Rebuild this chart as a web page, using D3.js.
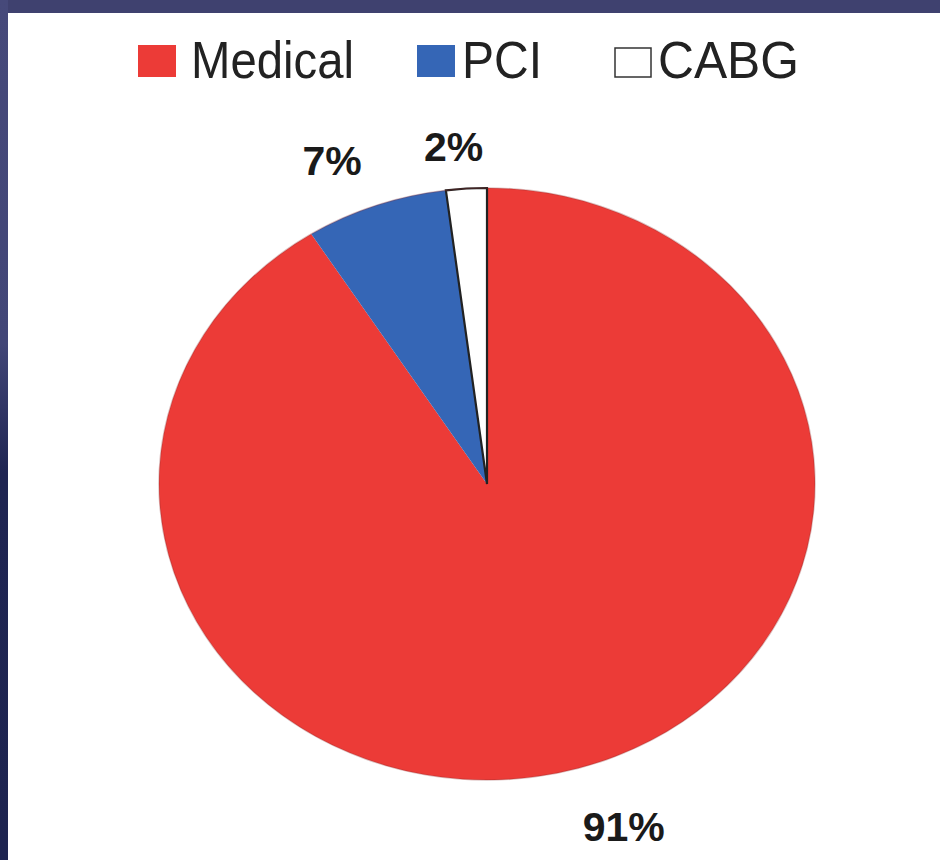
<!DOCTYPE html>
<html>
<head>
<meta charset="utf-8">
<script src="https://cdn.jsdelivr.net/npm/d3@7/dist/d3.min.js"></script>
<style>
  html, body { margin: 0; padding: 0; background: #ffffff; }
  svg { display: block; }
</style>
</head>
<body>
<svg id="chart" width="940" height="860"></svg>
<script>
// Treatment strategy shares
const categories = ["Medical", "PCI", "CABG"];
const shares = [91, 7, 2];
const labels = ["91%", "7%", "2%"];
const colors = ["#ec3b37", "#3566b6", "#ffffff"];

const W = 940, H = 860;
const svg = d3.select("#chart");

// slide frame: slate band along the top, navy band down the left
const defs = svg.append("defs");
const leftGrad = defs.append("linearGradient")
  .attr("id", "leftBand").attr("x1", 0).attr("y1", 0).attr("x2", 0).attr("y2", 1);
leftGrad.append("stop").attr("offset", "0").attr("stop-color", "#46497a");
leftGrad.append("stop").attr("offset", "0.4").attr("stop-color", "#424677");
leftGrad.append("stop").attr("offset", "0.55").attr("stop-color", "#1f2552");
leftGrad.append("stop").attr("offset", "1").attr("stop-color", "#1e2450");

svg.append("rect").attr("x", 0).attr("y", 0).attr("width", W).attr("height", 13)
  .attr("fill", "#3f416f");
svg.append("rect").attr("x", 0).attr("y", 0).attr("width", 8).attr("height", H)
  .attr("fill", "url(#leftBand)");

// pie geometry (slightly wider than tall)
const cx = 487, cy = 484, rx = 328, ry = 296;

const pie = d3.pie().value(d => d.v).sort(null);
const data = categories.map((c, i) => ({ c, v: shares[i], color: colors[i], label: labels[i] }));
const arcs = pie(data);

const arc = d3.arc().innerRadius(0).outerRadius(ry);

const pieG = svg.append("g")
  .attr("transform", `translate(${cx},${cy}) scale(${rx / ry},1)`);

pieG.selectAll("path.slice")
  .data(arcs)
  .join("path")
  .attr("class", "slice")
  .attr("d", arc)
  .attr("fill", d => d.data.color)
  .attr("stroke", d => d.data.c === "CABG" ? "#222222" : "none")
  .attr("stroke-width", 2.2)
  .attr("vector-effect", "non-scaling-stroke");

// soft darker rim around the pie
pieG.append("ellipse")
  .attr("cx", 0).attr("cy", 0).attr("rx", ry).attr("ry", ry)
  .attr("fill", "none").attr("stroke", "#8a2a2a").attr("stroke-opacity", 0.3)
  .attr("stroke-width", 1.5).attr("vector-effect", "non-scaling-stroke");

// percentage labels, set just outside each slice
const labelLayout = {
  "Medical": { k: 1.2, dx: 27, dy: 2 },
  "PCI": { k: 1.16, dx: -26, dy: 0 },
  "CABG": { k: 1.14, dx: -10, dy: 0 }
};
arcs.forEach(a => {
  const L = labelLayout[a.data.c];
  const ang = (a.startAngle + a.endAngle) / 2;
  const x = cx + Math.sin(ang) * rx * L.k + L.dx;
  const y = cy - Math.cos(ang) * ry * L.k + L.dy;
  svg.append("text")
    .attr("x", x).attr("y", y)
    .attr("text-anchor", "middle")
    .attr("dominant-baseline", "central")
    .attr("font-family", "Liberation Sans, Arial, sans-serif")
    .attr("font-weight", "bold")
    .attr("font-size", 41)
    .attr("fill", "#1a1a1a")
    .text(a.data.label);
});

// legend across the top
const legendItems = [
  { sx: 138, tx: 191, tw: 163 },
  { sx: 417, tx: 462, tw: 80 },
  { sx: 615, tx: 658, tw: 141 }
];
const legend = svg.append("g");
categories.forEach((c, i) => {
  const it = legendItems[i];
  legend.append("rect")
    .attr("x", it.sx).attr("y", c === "CABG" ? 48 : 45)
    .attr("width", c === "CABG" ? 36 : 38)
    .attr("height", c === "CABG" ? 29 : 32)
    .attr("fill", colors[i])
    .attr("stroke", c === "CABG" ? "#333333" : "none")
    .attr("stroke-width", 1.5);
  legend.append("text")
    .attr("x", it.tx).attr("y", 78)
    .attr("font-family", "Liberation Sans, Arial, sans-serif")
    .attr("font-size", 52)
    .attr("fill", "#222222")
    .attr("textLength", it.tw)
    .attr("lengthAdjust", "spacingAndGlyphs")
    .text(c);
});
</script>
</body>
</html>
